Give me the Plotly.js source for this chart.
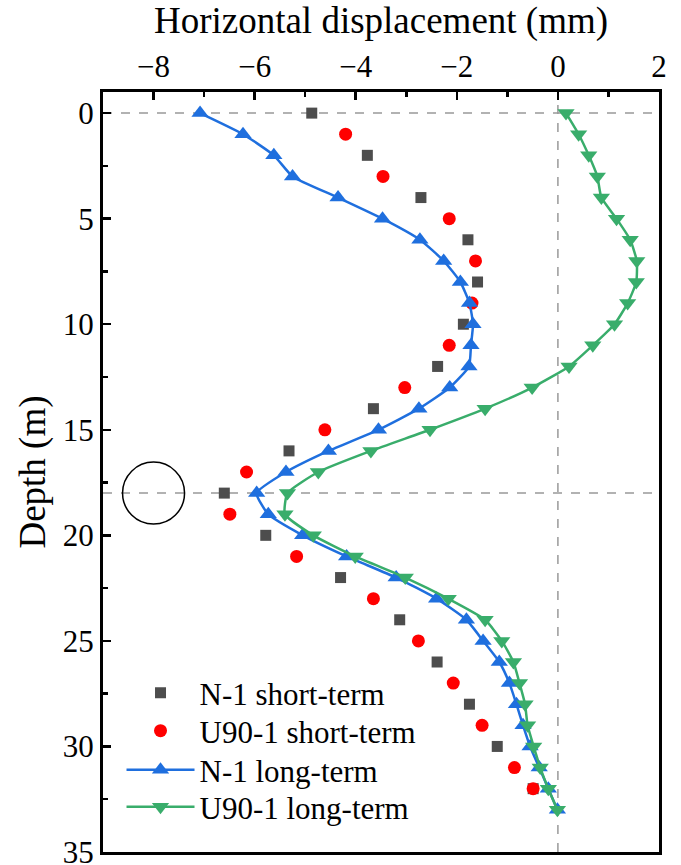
<!DOCTYPE html>
<html>
<head>
<meta charset="utf-8">
<script src="https://cdn.plot.ly/plotly-3.0.1.min.js"></script>
<style>html,body{margin:0;padding:0;background:#fff}#chart{width:681px;height:865px}</style>
</head>
<body>
<div id="chart"></div>
<script>
// ---- data ----
const depthShortN1 = [0,2,4,6,8,10,12,14,16,18,20,22,24,26,28,30,32];
const dispShortN1 = [-4.87,-3.77,-2.71,-1.78,-1.59,-1.87,-2.38,-3.65,-5.32,-6.60,-5.78,-4.30,-3.13,-2.39,-1.75,-1.20,-0.49];

const depthShortU90 = [1,3,5,7,9,11,13,15,17,19,21,23,25,27,29,31,32];
const dispShortU90 = [-4.20,-3.46,-2.15,-1.63,-1.70,-2.15,-3.03,-4.61,-6.16,-6.49,-5.17,-3.65,-2.76,-2.07,-1.50,-0.86,-0.49];

const depthLong = [0,1,2,3,4,5,6,7,8,9,10,11,12,13,14,15,16,17,18,19,20,21,22,23,24,25,26,27,28,29,30,31,32,33];
const dispLongN1 = [-7.08,-6.23,-5.62,-5.25,-4.35,-3.47,-2.73,-2.26,-1.93,-1.75,-1.68,-1.72,-1.76,-2.14,-2.75,-3.55,-4.54,-5.38,-5.96,-5.73,-5.05,-4.18,-3.20,-2.40,-1.81,-1.48,-1.16,-0.96,-0.82,-0.69,-0.55,-0.37,-0.19,-0.01];
const dispLongU90 = [0.16,0.41,0.61,0.78,0.86,1.16,1.43,1.56,1.55,1.38,1.12,0.69,0.22,-0.51,-1.44,-2.53,-3.70,-4.74,-5.35,-5.40,-4.84,-4.01,-3.02,-2.17,-1.44,-1.11,-0.88,-0.76,-0.65,-0.60,-0.48,-0.35,-0.19,-0.01];

const yTickVals = [0,5,10,15,20,25,30,35];
const xTickVals = [-8,-6,-4,-2,0,2];

const seriesNames = ["N-1 short-term","U90-1 short-term","N-1 long-term","U90-1 long-term"];
const xTitle = "Horizontal displacement (mm)";
const yTitle = "Depth (m)";
const circleCenter = [-8, 18];

const FONT = "Liberation Serif";
const BLUE = "#1f6fde";
const GREEN = "#39ad6b";

const traces = [
  {x: dispShortN1, y: depthShortN1, name: seriesNames[0], type: "scatter", mode: "markers", legend: "legend",
   marker: {symbol: "square", size: 11, color: "#4d4d4d"}},
  {x: dispShortU90, y: depthShortU90, name: seriesNames[1], type: "scatter", mode: "markers", legend: "legend2",
   marker: {symbol: "circle", size: 13, color: "#ff0000"}},
  {x: dispLongN1, y: depthLong, name: seriesNames[2], type: "scatter", mode: "lines+markers", legend: "legend3",
   line: {color: BLUE, width: 2.5, shape: "spline", smoothing: 0.5},
   marker: {symbol: "triangle-up", size: 15, color: BLUE}},
  {x: dispLongU90, y: depthLong, name: seriesNames[3], type: "scatter", mode: "lines+markers", legend: "legend4",
   line: {color: GREEN, width: 2.5, shape: "spline", smoothing: 0.5},
   marker: {symbol: "triangle-down", size: 15, color: GREEN}}
];

function leg(y) {
  return {x: 0.0333, y: y, xanchor: "left", yanchor: "middle", bgcolor: "rgba(0,0,0,0)",
          font: {family: FONT, size: 31, color: "#000"}, itemwidth: 68, borderwidth: 0};
}

const layout = {
  width: 681, height: 865,
  margin: {l: 103, r: 22, t: 92, b: 13},
  paper_bgcolor: "#fff", plot_bgcolor: "#fff",
  font: {family: FONT, size: 31, color: "#000"},
  showlegend: true,
  legend: leg(0.2092),
  legend2: leg(0.1592),
  legend3: leg(0.1079),
  legend4: leg(0.0592),
  xaxis: {
    side: "top", range: [-9, 2], tickmode: "array", tickvals: xTickVals,
    ticks: "inside", ticklen: 8, tickwidth: 2.5, tickcolor: "#000",
    minor: {ticks: "inside", dtick: 1, tick0: -9, ticklen: 5, tickwidth: 2.5, tickcolor: "#000", showgrid: false},
    showline: true, linecolor: "#000", linewidth: 3, mirror: true,
    showgrid: false, zeroline: false, automargin: false,
    tickfont: {family: FONT, size: 31, color: "#000"},
    title: {text: xTitle, font: {family: FONT, size: 37, color: "#000"}, standoff: 4}
  },
  yaxis: {
    range: [35, -1], tickmode: "array", tickvals: yTickVals,
    ticks: "inside", ticklen: 8, tickwidth: 2.5, tickcolor: "#000",
    minor: {ticks: "inside", dtick: 2.5, tick0: 0, ticklen: 5, tickwidth: 2.5, tickcolor: "#000", showgrid: false},
    showline: true, linecolor: "#000", linewidth: 3, mirror: true,
    showgrid: false, zeroline: false, automargin: false, ticklabeloverflow: "allow",
    tickfont: {family: FONT, size: 31, color: "#000"},
    title: {text: yTitle, font: {family: FONT, size: 37, color: "#000"}, standoff: 6}
  },
  shapes: [
    {type: "line", xref: "paper", yref: "y", x0: 0, x1: 1, y0: 0, y1: 0, layer: "below",
     line: {color: "#999", width: 1.5, dash: "dash"}},
    {type: "line", xref: "paper", yref: "y", x0: 0, x1: 1, y0: 18, y1: 18, layer: "below",
     line: {color: "#999", width: 1.5, dash: "dash"}},
    {type: "line", xref: "x", yref: "paper", x0: 0, x1: 0, y0: 0, y1: 1, layer: "below",
     line: {color: "#999", width: 1.5, dash: "dash"}},
    {type: "circle", xref: "x", yref: "y", xsizemode: "pixel", ysizemode: "pixel",
     xanchor: circleCenter[0], yanchor: circleCenter[1], x0: -31, x1: 31, y0: -31, y1: 31,
     line: {color: "#000", width: 1.5}}
  ]
};

Plotly.newPlot("chart", traces, layout, {displayModeBar: false, staticPlot: true});
</script>
</body>
</html>
